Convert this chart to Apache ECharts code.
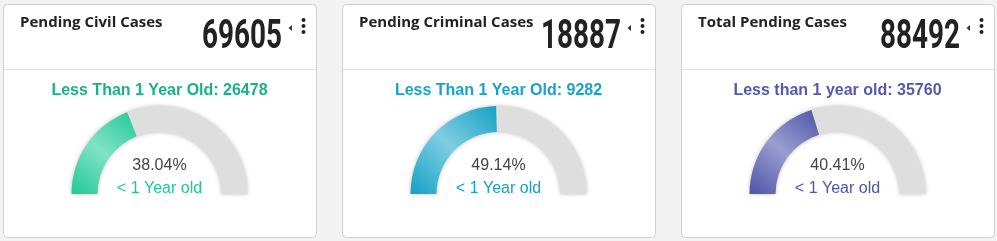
<!DOCTYPE html>
<html><head><meta charset="utf-8">
<script src="https://cdn.jsdelivr.net/npm/echarts@6/dist/echarts.min.js"></script>
<style>html,body{margin:0;padding:0;background:#f3f3f3;}#c{width:997px;height:241px;}</style>
</head><body><div id="c"></div>
<script>
const titles = ['Pending Civil Cases', 'Pending Criminal Cases', 'Total Pending Cases'];
const totals = [69605, 18887, 88492];
const underOneYear = [26478, 9282, 35760];
const subLabels = ['Less Than 1 Year Old: ', 'Less Than 1 Year Old: ', 'Less than 1 year old: '];
const innerLabel = '< 1 Year old';
const mainColors = ['#1fc997', '#13a2c5', '#4d53a7'];
const lightColors = ['#80e3c5', '#80cde2', '#9a9ed0'];
const textColors = ['#19b287', '#1aa3c8', '#5459ab'];

const cardLefts = [3, 342, 681];
const cardW = 313, cardTop = 4, cardH = 233;

const chart = echarts.init(document.getElementById('c'));
const graphic = [];
const series = [];
titles.forEach((t, i) => {
  const x0 = cardLefts[i];
  const cx = x0 + cardW / 2;
  graphic.push({type:'rect', shape:{x:x0+0.5, y:cardTop+0.5, width:cardW, height:cardH, r:4},
    style:{fill:'#fff', stroke:'#cfcfcf', lineWidth:1}, z:0});
  graphic.push({type:'line', shape:{x1:x0+1, y1:69.5, x2:x0+cardW, y2:69.5},
    style:{stroke:'#e3e3e3', lineWidth:1}, z:1});
  graphic.push({type:'text', x:x0+17, y:23, z:2,
    style:{text:t, font:'bold 15px "Open Sans"', fill:'#222', textVerticalAlign:'middle'}});
  graphic.push({type:'text', x:x0+cardW-34, y:37.5, z:2, scaleX:0.68,
    style:{text:String(totals[i]), font:'bold 41px Roboto', fill:'#222',
      textAlign:'right', textVerticalAlign:'middle'}});
  graphic.push({type:'polygon', z:2, shape:{points:[[x0+cardW-24,25],[x0+cardW-24,31],[x0+cardW-27.5,28]]},
    style:{fill:'#333'}});
  [20, 26, 32].forEach(y => graphic.push({type:'circle', z:2, shape:{cx:x0+cardW-12.5, cy:y, r:2},
    style:{fill:'#222'}}));
  graphic.push({type:'text', x:cx, y:91, z:2,
    style:{text:subLabels[i] + underOneYear[i], font:'bold 16px "Liberation Sans"', fill:textColors[i],
      textAlign:'center', textVerticalAlign:'middle'}});
  const pct = underOneYear[i] / totals[i] * 100;
  series.push({
    type:'gauge', startAngle:180, endAngle:0, min:0, max:100,
    center:[cx, 194], radius:88,
    axisLine:{lineStyle:{width:26, color:[[1,'#dedede']], shadowColor:'rgba(0,0,0,0.25)', shadowBlur:4}},
    progress:{show:true, width:26, itemStyle:{color:new echarts.graphic.LinearGradient(0,1,1,0,[
      {offset:0,color:mainColors[i]},{offset:0.5,color:lightColors[i]},{offset:1,color:mainColors[i]}])}},
    pointer:{show:false}, axisTick:{show:false}, splitLine:{show:false}, axisLabel:{show:false},
    anchor:{show:false}, title:{show:false},
    detail:{show:true, offsetCenter:[0,-17], valueAnimation:false, fontWeight:'normal',
      formatter: v => '{a|' + v.toFixed(2) + '%}\n{b|' + innerLabel + '}',
      rich:{a:{fontSize:16, fontFamily:'Liberation Sans', fontWeight:'normal', color:'#444', lineHeight:23},
            b:{fontSize:16, fontFamily:'Liberation Sans', fontWeight:'normal', color:mainColors[i], lineHeight:23}}},
    data:[{value:pct}]
  });
});
chart.setOption({animation:false, graphic, series});
</script></body></html>
